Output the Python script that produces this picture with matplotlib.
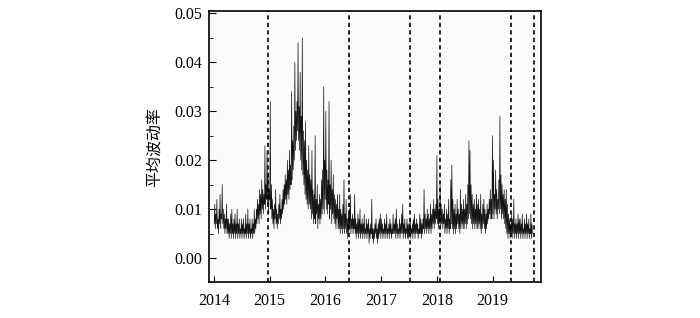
import numpy as np
import pandas as pd
import matplotlib
matplotlib.use('Agg')
import matplotlib.pyplot as plt
import matplotlib.dates as mdates
from matplotlib.ticker import MultipleLocator

# average volatility (units of 0.001)
vol_2014 = [7, 11, 6, 9, 7, 12, 6, 8, 5, 10, 7, 13, 6, 9, 8, 15, 7, 10, 6, 9, 5, 8, 6, 11, 5, 8,
            5, 8, 4, 7, 5, 9, 4, 10, 5, 7, 4, 8, 5, 9, 4, 7, 5, 10, 4, 7, 5, 8, 4, 6, 5, 8,
            4, 7, 5, 8, 4, 6, 5, 9, 4, 7, 5, 10, 4, 7, 5, 8, 4, 6, 5, 8, 4, 7, 5, 10, 5, 8,
            6, 10, 7, 12, 8, 11, 7, 14, 9, 13, 8, 16, 10, 14, 9, 13, 11, 23, 10, 15, 12, 22, 11, 17, 9, 14]
vol_2015 = [12, 32, 10, 15, 8, 12, 7, 10, 6, 11, 8, 14, 7, 10, 6, 9, 7, 11, 8, 13, 7, 10, 8, 12, 9, 14,
            10, 15, 11, 17, 12, 16, 11, 20, 13, 18, 12, 22, 14, 19, 15, 34, 16, 24, 18, 27, 20, 40, 22, 30, 24, 32,
            26, 44, 24, 31, 22, 38, 20, 29, 18, 45, 17, 26, 15, 24, 13, 28, 12, 20, 11, 18, 10, 23, 11, 17, 10, 16,
            8, 22, 9, 14, 7, 13, 8, 25, 7, 12, 9, 15, 6, 11, 8, 13, 7, 12, 8, 16, 9, 18, 10, 35, 9, 20]
vol_2016 = [12, 30, 10, 18, 9, 16, 11, 32, 8, 15, 10, 20, 7, 14, 9, 17, 8, 13, 7, 12, 6, 11, 8, 13, 6, 10,
            6, 13, 5, 10, 6, 9, 5, 11, 6, 16, 5, 9, 6, 12, 5, 8, 4, 9, 5, 10, 6, 13, 5, 8, 6, 9,
            5, 8, 6, 13, 5, 8, 4, 7, 5, 9, 4, 8, 5, 10, 4, 7, 5, 8, 4, 7, 5, 9, 4, 6, 5, 8,
            4, 7, 5, 8, 3, 6, 4, 7, 5, 12, 4, 6, 3, 6, 4, 7, 5, 8, 4, 6, 3, 7, 4, 8, 5, 9]
vol_2017 = [4, 8, 5, 7, 4, 6, 5, 8, 4, 7, 5, 9, 4, 6, 5, 7, 4, 8, 5, 7, 4, 6, 5, 9, 5, 7,
            5, 8, 4, 10, 5, 7, 4, 6, 5, 8, 4, 7, 5, 9, 5, 11, 4, 7, 5, 8, 4, 6, 5, 8, 4, 7,
            4, 7, 5, 8, 4, 6, 5, 7, 4, 8, 5, 9, 4, 7, 5, 8, 5, 7, 4, 6, 5, 9, 5, 8, 4, 7,
            5, 8, 6, 14, 5, 9, 6, 8, 5, 10, 6, 9, 5, 8, 6, 11, 5, 9, 6, 10, 7, 12, 6, 10, 7, 11]
vol_2018 = [8, 21, 7, 12, 6, 10, 7, 15, 6, 11, 7, 10, 6, 9, 7, 11, 5, 8, 6, 10, 5, 9, 6, 12, 5, 8,
            6, 16, 7, 19, 6, 12, 5, 10, 6, 11, 5, 9, 6, 12, 7, 10, 6, 9, 5, 14, 6, 11, 7, 10, 6, 12,
            6, 10, 7, 13, 6, 11, 7, 15, 8, 24, 9, 22, 8, 15, 7, 13, 6, 11, 7, 12, 6, 10, 7, 13, 6, 11,
            6, 12, 7, 10, 6, 13, 5, 9, 6, 11, 7, 12, 6, 10, 5, 9, 6, 11, 7, 10, 8, 12, 9, 14, 8, 12]
vol_2019 = [8, 25, 9, 20, 8, 13, 10, 18, 9, 14, 8, 12, 10, 16, 9, 29, 10, 17, 8, 15, 9, 13, 8, 14, 7, 12,
            6, 14, 5, 11, 4, 9, 5, 8, 4, 7, 5, 9, 4, 8, 5, 12, 4, 7, 5, 8, 4, 7, 5, 9, 4, 8,
            5, 8, 4, 7, 5, 9, 4, 6, 5, 8, 4, 7, 5, 9, 4, 7, 5, 8, 4, 6, 5, 9, 4, 7, 5]

# break dates (dashed lines)
breaks = ['2014-12-22', '2016-06-06', '2017-07-06', '2018-01-24', '2019-04-29', '2019-09-26']
year_ticks = ['2014', '2015', '2016', '2017', '2018', '2019']

vol = np.array(vol_2014 + vol_2015 + vol_2016 + vol_2017 + vol_2018 + vol_2019) / 1000.0
dates = pd.date_range('2014-01-02', periods=len(vol), freq='84h')

plt.rcParams['font.family'] = ['Liberation Serif', 'Noto Sans CJK SC']

fig = plt.figure(figsize=(7, 3.18), dpi=100)
ax = fig.add_axes([0.2986, 0.1132, 0.4743, 0.8522])
ax.set_facecolor('#fbfbfb')

ax.plot(dates, vol, color='#151515', lw=0.5)
for b in breaks:
    ax.axvline(pd.Timestamp(b), color='black', lw=1.2, linestyle=(0, (2.5, 2)))

ax.set_xlim(pd.Timestamp('2013-11-29'), pd.Timestamp('2019-11-14'))
ax.set_ylim(-0.0049, 0.0505)

ax.set_xticks([pd.Timestamp(y + '-01-01') for y in year_ticks])
ax.xaxis.set_major_formatter(mdates.DateFormatter('%Y'))
ax.yaxis.set_major_locator(MultipleLocator(0.01))
ax.yaxis.set_minor_locator(MultipleLocator(0.005))
ax.yaxis.set_major_formatter(plt.FormatStrFormatter('%.2f'))

ax.tick_params(axis='both', which='both', direction='in', labelsize=11.5)
ax.tick_params(axis='y', which='major', length=5, pad=5)
ax.tick_params(axis='y', which='minor', length=3)
ax.tick_params(axis='x', which='major', length=4, pad=8)

for s in ax.spines.values():
    s.set_linewidth(1.2)

ax.set_ylabel('平均波动率', family=['Noto Sans CJK SC', 'DejaVu Sans'], fontsize=11.5, labelpad=8)

fig.savefig('out.png', dpi=100)
